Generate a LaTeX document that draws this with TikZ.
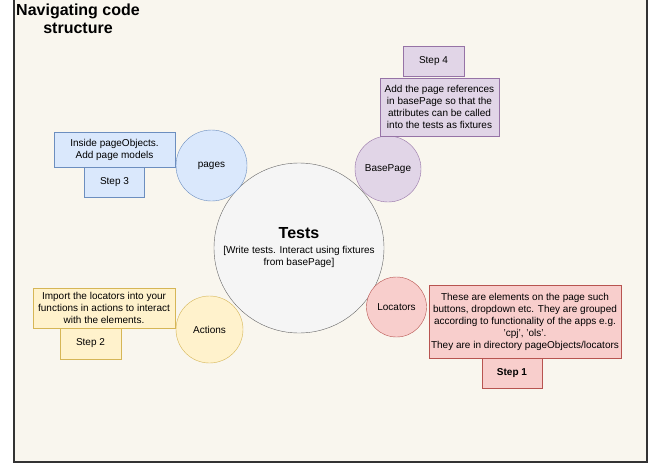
\documentclass[tikz,border=0pt]{standalone}
\usepackage{fontspec}
\setmainfont{Liberation Sans}
\usetikzlibrary{positioning}

\definecolor{paper}{HTML}{F9F6EE}
\definecolor{frameline}{HTML}{333333}
\definecolor{testsfill}{HTML}{F5F5F5}
\definecolor{testsline}{HTML}{666666}
\definecolor{bluefill}{HTML}{DAE8FC}
\definecolor{blueline}{HTML}{6C8EBF}
\definecolor{purplefill}{HTML}{E1D5E7}
\definecolor{purpleline}{HTML}{9673A6}
\definecolor{yellowfill}{HTML}{FFF2CC}
\definecolor{yellowline}{HTML}{D6B656}
\definecolor{redfill}{HTML}{F8CECC}
\definecolor{redline}{HTML}{B85450}

\tikzset{
  part/.style={circle, inner sep=0pt, font=\fontsize{10}{12}\selectfont},
  notebox/.style={rectangle, inner sep=0pt, align=center, font=\fontsize{10}{12}\selectfont},
}

\begin{document}
\begin{tikzpicture}[x=1pt,y=-1pt]
\useasboundingbox (0,0) rectangle (649,464);
\draw[fill=paper, draw=frameline, line width=1.5pt] (14,-2) rectangle (647,462);

\node[align=center, font=\fontsize{16}{18}\selectfont\bfseries] (title) at (78,19) {Navigating code\\structure};

% centre
\node[part, draw=testsline, fill=testsfill, minimum size=170, align=center] (tests) at (299,248)
  {{\fontsize{16}{19}\selectfont\bfseries Tests}\\[3pt]{[Write tests. Interact using fixtures}\\{from basePage]}};

% step 1
\node[part, draw=redline, fill=redfill, minimum size=60] (locators) at (396.5,307) {Locators};
\node[notebox, draw=redline, fill=redfill, minimum width=192, minimum height=73] (locatorsnote) at (525,321.5)
  {These are elements on the page such\\buttons, dropdown etc. They are grouped\\according to functionality of the apps e.g.\\'cpj', 'ols'.\\They are in directory pageObjects/locators};
\node[notebox, draw=redline, fill=redfill, minimum width=60, minimum height=30, font=\fontsize{10}{12}\selectfont\bfseries] (step1) at (512,373) {Step 1};

% step 2
\node[part, draw=yellowline, fill=yellowfill, minimum size=67] (actions) at (209.5,329.5) {Actions};
\node[notebox, draw=yellowline, fill=yellowfill, minimum width=142, minimum height=40] (actionsnote) at (104,308)
  {Import the locators into your\\functions in actions to interact\\with the elements.};
\node[notebox, draw=yellowline, fill=yellowfill, minimum width=61, minimum height=31] (step2) at (90.5,343.5) {Step 2};

% step 3
\node[part, draw=blueline, fill=bluefill, minimum size=71] (pages) at (211.5,165.5) {pages};
\node[notebox, draw=blueline, fill=bluefill, minimum width=121, minimum height=35] (pagesnote) at (114.5,149.5)
  {Inside pageObjects.\\Add page models};
\node[notebox, draw=blueline, fill=bluefill, minimum width=60, minimum height=30, below=0pt of pagesnote] (step3) {Step 3};

% step 4
\node[part, draw=purpleline, fill=purplefill, minimum size=66] (basepage) at (388,169) {BasePage};
\node[notebox, draw=purpleline, fill=purplefill, minimum width=119, minimum height=58] (basepagenote) at (439.5,107)
  {Add the page references\\in basePage so that the\\attributes can be called\\into the tests as fixtures};
\node[notebox, draw=purpleline, fill=purplefill, minimum width=61, minimum height=30] (step4) at (433.5,61) {Step 4};
\end{tikzpicture}
\end{document}
